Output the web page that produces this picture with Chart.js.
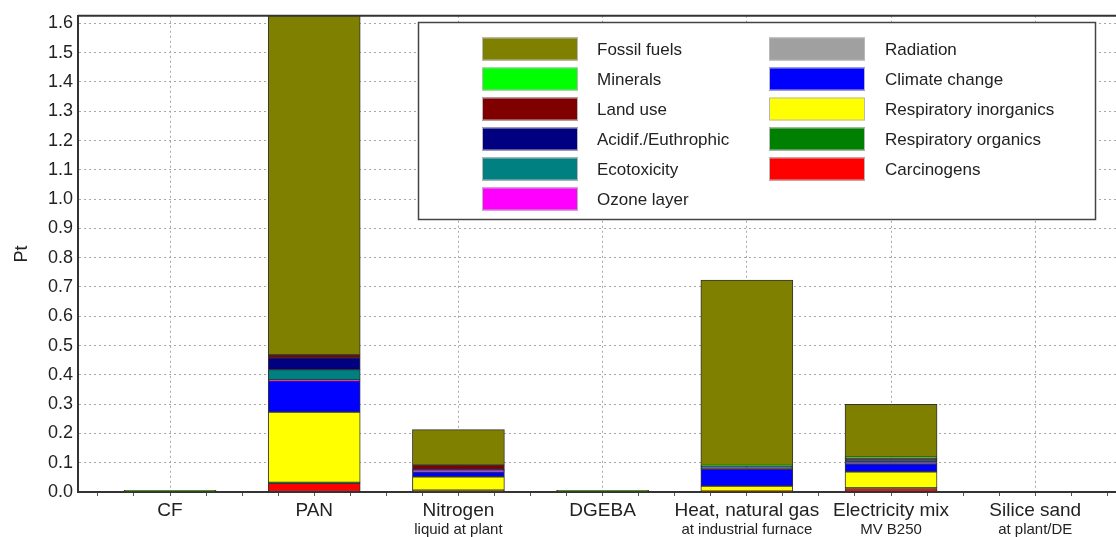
<!DOCTYPE html>
<html>
<head>
<meta charset="utf-8">
<title>Eco-indicator single score</title>
<script src="https://cdn.jsdelivr.net/npm/chart.js@4.4.0/dist/chart.umd.min.js"></script>
<style>
  html, body { margin: 0; padding: 0; background: #ffffff; overflow: hidden; }
  canvas { display: block; }
</style>
</head>
<body>
<canvas id="chart" width="1116" height="537"></canvas>
<script>
// Processes on the category axis, with a second line of detail under some of them
const categories = ['CF', 'PAN', 'Nitrogen', 'DGEBA', 'Heat, natural gas', 'Electricity mix', 'Silice sand'];
const subLabels  = ['', '', 'liquid at plant', '', 'at industrial furnace', 'MV B250', 'at plant/DE'];

// Single-score contribution (Pt) of each impact category, per process
const carcinogens     = [0,     0.030, 0.002, 0,     0.002, 0.012, 0];
const respOrganics    = [0.004, 0.003, 0.004, 0.004, 0.001, 0.002, 0];
const respInorganics  = [0,     0.240, 0.046, 0,     0.017, 0.055, 0];
const climateChange   = [0,     0.106, 0.016, 0,     0.057, 0.026, 0];
const radiation       = [0,     0,     0,     0,     0,     0,     0];
const ozoneLayer      = [0,     0.004, 0.003, 0,     0.003, 0.003, 0];
const ecotoxicity     = [0,     0.035, 0.003, 0,     0.005, 0.008, 0];
const acidification   = [0,     0.040, 0.003, 0,     0.004, 0.006, 0];
const landUse         = [0,     0.010, 0.015, 0,     0,     0.002, 0];
const minerals        = [0,     0,     0,     0,     0.002, 0.005, 0];
const fossilFuels     = [0.002, 1.350, 0.121, 0.002, 0.633, 0.180, 0];

// Stacking order, bottom to top
const seriesNames = ['Carcinogens', 'Respiratory organics', 'Respiratory inorganics', 'Climate change',
  'Radiation', 'Ozone layer', 'Ecotoxicity', 'Acidif./Euthrophic', 'Land use', 'Minerals', 'Fossil fuels'];
const seriesValues = [carcinogens, respOrganics, respInorganics, climateChange, radiation, ozoneLayer,
  ecotoxicity, acidification, landUse, minerals, fossilFuels];
const seriesColors = ['#ff0000', '#008000', '#ffff00', '#0000ff', '#a0a0a0', '#ff00ff',
  '#008080', '#000080', '#800000', '#00ff00', '#808000'];

// Axis ranges
const yMax = 1.626;
const yStep = 0.1;
const xMin = -0.638;
const xMax = 6.56;

const FONT = '"Liberation Sans", Arial, Helvetica, sans-serif';
Chart.defaults.font.family = FONT;
Chart.defaults.color = '#222222';

const isWhole = v => Math.abs(v - Math.round(v)) < 1e-6;

const datasets = seriesNames.map((name, k) => ({
  label: name,
  data: seriesValues[k].map((v, i) => ({ x: i, y: v })),
  backgroundColor: seriesColors[k],
  borderColor: '#333333',
  borderWidth: 1,
  borderSkipped: false,
  stack: 'impact'
}));

// Frame line along the top of the plot, and the two-column key box
const frameAndKey = {
  id: 'frameAndKey',
  afterDraw(chart) {
    const ctx = chart.ctx;
    const area = chart.chartArea;
    ctx.save();
    ctx.strokeStyle = '#333333';
    ctx.lineWidth = 2;
    ctx.beginPath();
    ctx.moveTo(area.left, area.top);
    ctx.lineTo(area.right, area.top);
    ctx.stroke();

    const box = { x: 418, y: 22, w: 677, h: 198 };
    ctx.fillStyle = '#ffffff';
    ctx.fillRect(box.x, box.y, box.w, box.h);
    ctx.strokeStyle = '#444444';
    ctx.lineWidth = 1.5;
    ctx.strokeRect(box.x + 0.5, box.y + 0.5, box.w, box.h - 1);

    const items = chart.data.datasets.slice().reverse();
    ctx.font = '17px ' + FONT;
    ctx.textBaseline = 'middle';
    ctx.textAlign = 'left';
    items.forEach((ds, k) => {
      const col = k < 6 ? 0 : 1;
      const row = col ? k - 6 : k;
      const sx = col ? 769 : 482;
      const tx = col ? 885 : 597;
      const cy = 49 + row * 30;
      ctx.fillStyle = ds.backgroundColor;
      ctx.fillRect(sx, cy - 11.5, 96, 23);
      ctx.strokeStyle = '#b8b8b8';
      ctx.lineWidth = 1;
      ctx.strokeRect(sx + 0.5, cy - 11, 95, 22);
      ctx.fillStyle = '#222222';
      ctx.fillText(ds.label, tx, cy + 1);
    });
    ctx.restore();
  }
};

new Chart(document.getElementById('chart'), {
  type: 'bar',
  data: { datasets },
  plugins: [frameAndKey],
  options: {
    responsive: false,
    animation: false,
    events: [],
    layout: { padding: { top: 14, left: 0, right: 0, bottom: 0 } },
    datasets: { bar: { barThickness: 92 } },
    plugins: { legend: { display: false }, tooltip: { enabled: false } },
    scales: {
      x: {
        type: 'linear',
        position: 'bottom',
        offset: false,
        min: xMin,
        max: xMax,
        afterFit: s => { s.height = 29; },
        ticks: {
          stepSize: 0.25,
          includeBounds: false,
          autoSkip: false,
          maxRotation: 0,
          padding: 3,
          font: { size: 19 },
          color: '#222222',
          callback: v => (isWhole(v) ? (categories[Math.round(v)] || '') : '')
        },
        grid: {
          offset: false,
          color: c => (c.tick && isWhole(c.tick.value) ? '#a6a6a6' : 'rgba(0,0,0,0)'),
          lineWidth: 1,
          drawTicks: true,
          tickLength: 4,
          tickColor: '#555555',
          tickWidth: 1,
          tickBorderDash: []
        },
        border: { display: true, color: '#333333', width: 2, dash: [2, 3] }
      },
      xSub: {
        type: 'linear',
        position: 'bottom',
        weight: 1,
        offset: false,
        min: xMin,
        max: xMax,
        afterFit: s => { s.height = 16; },
        ticks: {
          stepSize: 1,
          includeBounds: false,
          autoSkip: false,
          maxRotation: 0,
          padding: 0,
          font: { size: 15 },
          color: '#222222',
          callback: v => (isWhole(v) ? (subLabels[Math.round(v)] || '') : '')
        },
        grid: { display: false, drawTicks: false, offset: false },
        border: { display: false }
      },
      y: {
        type: 'linear',
        min: 0,
        max: yMax,
        stacked: true,
        afterFit: s => { s.width = 78; },
        title: {
          display: true,
          text: 'Pt',
          font: { size: 18 },
          color: '#222222',
          padding: { top: 11, bottom: 0 }
        },
        ticks: {
          stepSize: yStep,
          includeBounds: false,
          padding: 5,
          font: { size: 18 },
          color: '#222222',
          callback: v => Number(v).toFixed(1)
        },
        grid: {
          color: '#a6a6a6',
          lineWidth: 1,
          drawTicks: false
        },
        border: { display: true, color: '#333333', width: 2, dash: [2, 3] }
      }
    }
  }
});
</script>
</body>
</html>
